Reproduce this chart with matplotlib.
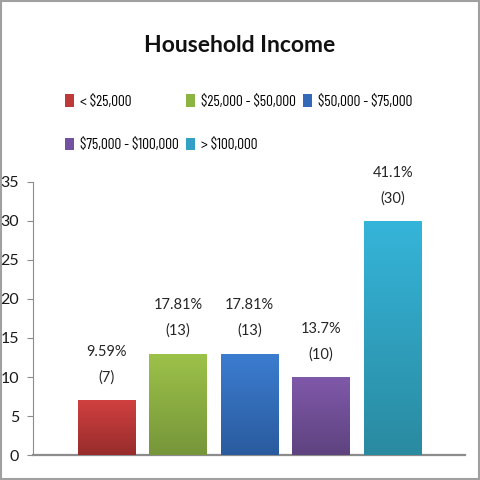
import numpy as np
import matplotlib
matplotlib.use("Agg")
import matplotlib.pyplot as plt
from matplotlib.colors import LinearSegmentedColormap
from matplotlib.patches import Patch, Rectangle

# data
categories = ["< $25,000", "$25,000 - $50,000", "$50,000 - $75,000",
              "$75,000 - $100,000", "> $100,000"]
counts = [7, 13, 13, 10, 30]
percents = ["9.59%", "17.81%", "17.81%", "13.7%", "41.1%"]
top_colors = ["#D04040", "#9DC249", "#3C7DD0", "#8059AA", "#35B5DA"]
bottom_colors = ["#982C2C", "#76963A", "#2A5B9E", "#5E437F", "#2A8AA0"]
legend_colors = ["#C0393A", "#8CB443", "#3469B8", "#7151A0", "#31A0C4"]

plt.rcParams['font.family'] = ['Lato', 'DejaVu Sans']
plt.rcParams['text.parse_math'] = False

fig = plt.figure(figsize=(4.8, 4.8), dpi=100)
ax = fig.add_axes([0.069, 0.052, 0.9, 0.569])

x = np.arange(len(categories))
bars = ax.bar(x, counts, width=0.8, color=legend_colors, zorder=2)

# vertical gradient on each bar
grad = np.linspace(0, 1, 256).reshape(-1, 1)
for b, c1, c2 in zip(bars, top_colors, bottom_colors):
    cmap = LinearSegmentedColormap.from_list("g", [c2, c1])
    bx, by = b.get_x(), b.get_y()
    w, h = b.get_width(), b.get_height()
    im = ax.imshow(grad, cmap=cmap, origin="lower", aspect="auto",
                   extent=[bx, bx + w, by, by + h], zorder=3)
    im.set_clip_path(b)

for xi, c, p in zip(x, counts, percents):
    ax.text(xi, c + 2.0, p + "\n(" + str(c) + ")", ha="center", va="bottom",
            fontsize=10.5, color="#262626", linespacing=2.0)

ax.set_xlim(-1.02, 5.01)
ax.set_ylim(0, 35)
ax.set_yticks(range(0, 36, 5))
ax.set_xticks([])
ax.tick_params(axis="y", length=4, color="#8C8C8C", labelsize=11.5,
               labelcolor="#1A1A1A", pad=6)
for s in ["top", "right"]:
    ax.spines[s].set_visible(False)
ax.spines["left"].set_color("#8C8C8C")
ax.spines["bottom"].set_color("#8C8C8C")
ax.spines["bottom"].set_linewidth(1.6)

fig.text(0.5, 0.905, "Household Income", ha="center", va="center",
         fontsize=16.5, fontweight="bold", color="#111111")

handles = [Patch(facecolor=c, edgecolor="none") for c in legend_colors]
order = [0, 3, 1, 4, 2]
fig.legend([handles[i] for i in order], [categories[i] for i in order],
           ncol=3, loc="upper left", bbox_to_anchor=(0.135, 0.804),
           frameon=False,
           prop={"family": ["Barlow Condensed", "Barlow Semi Condensed", "Lato"],
                 "size": 11},
           handlelength=0.6, handleheight=0.9,
           handletextpad=0.4, columnspacing=0.45, labelspacing=1.9,
           borderaxespad=0, borderpad=0)

fig.patches.append(Rectangle((0.002, 0.002), 0.996, 0.996, transform=fig.transFigure,
                             fill=False, edgecolor="#A0A0A0", linewidth=1.5))

fig.savefig("out.png", dpi=100)
